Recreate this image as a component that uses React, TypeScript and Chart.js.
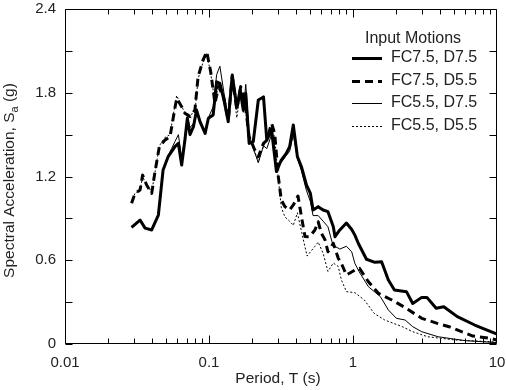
import React, { useEffect, useRef } from "react";
import { Chart, registerables } from "chart.js";

Chart.register(...registerables);

// ---------- data ----------
const periodsFC75D75 = [0.029,0.0332,0.036,0.04,0.0445,0.048,0.052,0.055,0.058,0.0613,0.0646,0.068,0.0707,0.0738,0.078,0.082,0.0866,0.094,0.099,0.1069,0.113,0.119,0.127,0.136,0.145,0.156,0.1645,0.173,0.18,0.19,0.203,0.22,0.239,0.252,0.272,0.294,0.3175,0.344,0.363,0.385,0.411,0.4385,0.475,0.506,0.528,0.573,0.62,0.67,0.73,0.75,0.81,0.9,0.98,1.03,1.09,1.24,1.42,1.58,1.76,1.94,2.35,2.6,3.0,3.26,3.78,4.27,5.3,7.0,10];
const saFC75D75 = [0.836,0.888,0.83,0.817,0.924,1.247,1.342,1.378,1.414,1.437,1.282,1.46,1.617,1.5,1.557,1.676,1.593,1.509,1.617,1.641,1.879,1.867,1.748,1.593,1.927,1.7,1.82,1.676,1.796,1.437,1.45,1.748,1.77,1.46,1.533,1.235,1.318,1.366,1.414,1.569,1.342,1.27,1.139,1.079,0.96,0.984,0.96,0.948,0.84,0.769,0.817,0.867,0.82,0.78,0.72,0.607,0.585,0.59,0.458,0.387,0.375,0.29,0.334,0.334,0.256,0.267,0.196,0.136,0.07];

const periodsFC75D55 = [0.029,0.0306,0.0332,0.0346,0.0369,0.04,0.042,0.0452,0.0495,0.0536,0.0582,0.0597,0.0646,0.068,0.0738,0.0798,0.084,0.091,0.0965,0.1027,0.11,0.1165,0.126,0.136,0.145,0.156,0.166,0.178,0.19,0.208,0.22,0.239,0.252,0.272,0.286,0.302,0.3175,0.337,0.363,0.385,0.415,0.4385,0.464,0.5,0.544,0.573,0.6035,0.64,0.67,0.73,0.79,0.83,0.9,1.03,1.11,1.28,1.5,1.86,2.25,3.0,3.85,4.65,6.8,8.9,10];
const saFC75D55 = [1.008,1.079,1.103,1.21,1.139,1.079,1.223,1.414,1.461,1.485,1.7,1.76,1.7,1.653,1.629,1.676,1.915,2.035,2.094,1.951,1.724,1.844,1.772,1.605,1.915,1.68,1.844,1.724,1.485,1.39,1.342,1.437,1.46,1.581,1.509,1.21,1.032,0.984,0.96,0.996,1.06,0.912,0.77,0.769,0.817,0.876,0.793,0.745,0.661,0.721,0.614,0.578,0.494,0.53,0.542,0.446,0.363,0.315,0.267,0.184,0.148,0.124,0.057,0.041,0.029];

const periodsFC55D75 = [0.029,0.0332,0.036,0.04,0.0445,0.048,0.052,0.055,0.058,0.0613,0.0646,0.068,0.0707,0.0738,0.078,0.082,0.0866,0.094,0.099,0.1069,0.113,0.119,0.127,0.136,0.145,0.156,0.1645,0.173,0.18,0.19,0.203,0.22,0.239,0.252,0.272,0.294,0.3175,0.344,0.363,0.385,0.411,0.4385,0.475,0.506,0.528,0.573,0.62,0.67,0.72,0.75,0.81,0.9,0.98,1.03,1.1,1.28,1.55,1.76,2.0,2.3,2.6,3.0,3.9,6.0,10];
const saFC55D75 = [0.84,0.88,0.83,0.82,0.93,1.25,1.35,1.4,1.45,1.5,1.33,1.48,1.63,1.55,1.58,1.66,1.58,1.52,1.62,1.7,1.93,1.99,1.8,1.62,1.9,1.68,1.8,1.66,1.86,1.5,1.4,1.3,1.42,1.4,1.5,1.25,1.3,1.35,1.38,1.5,1.33,1.24,1.1,1.02,0.92,0.92,0.88,0.84,0.72,0.7,0.68,0.7,0.66,0.578,0.52,0.41,0.339,0.244,0.184,0.172,0.124,0.088,0.052,0.024,0.01];

const periodsFC55D55 = [0.029,0.0306,0.0332,0.0346,0.0369,0.04,0.042,0.0452,0.0495,0.0536,0.0582,0.0597,0.0646,0.068,0.0738,0.0798,0.084,0.091,0.0965,0.1027,0.11,0.1165,0.126,0.136,0.145,0.156,0.166,0.178,0.19,0.208,0.22,0.239,0.272,0.286,0.302,0.3175,0.337,0.363,0.385,0.411,0.44,0.48,0.544,0.573,0.62,0.67,0.73,0.79,0.83,0.9,1.03,1.2,1.4,1.66,2.2,2.6,3.3,5.1,10];
const saFC55D55 = [1.01,1.08,1.1,1.2,1.14,1.09,1.22,1.42,1.48,1.5,1.72,1.78,1.7,1.66,1.64,1.66,1.9,2.02,2.08,1.94,1.73,1.86,1.78,1.62,1.9,1.62,1.82,1.7,1.48,1.38,1.3,1.42,1.54,1.48,1.2,0.98,0.91,0.88,0.85,0.94,0.8,0.63,0.7,0.73,0.65,0.52,0.58,0.555,0.46,0.375,0.368,0.315,0.22,0.172,0.124,0.088,0.052,0.029,0.014];

const seriesNames = ["FC7.5, D7.5", "FC7.5, D5.5", "FC5.5, D7.5", "FC5.5, D5.5"];
const legendTitle = "Input Motions";
const xTickValues = [0.01, 0.1, 1, 10];
const xTickLabels = ["0.01", "0.1", "1", "10"];
const yTickValues = [0, 0.6, 1.2, 1.8, 2.4];
const yTickLabels = ["0", "0.6", "1.2", "1.8", "2.4"];
const yMinorTickValues = [0.3, 0.9, 1.5, 2.1];
const xAxisTitle = "Period, T (s)";
const yAxisTitleMain = "Spectral Acceleration, S";
const yAxisTitleSub = "a";
const yAxisTitleEnd = " (g)";

const FONT = '"Liberation Sans", Arial, sans-serif';
const TEXT = "#222";

const styles = [
  { width: 3, dash: [] as number[] },
  { width: 3, dash: [8, 5] },
  { width: 1, dash: [] as number[] },
  { width: 1, dash: [2, 2] },
];

function pts(xs: number[], ys: number[]) {
  return xs.map((x, i) => ({ x, y: ys[i] }));
}

const decorPlugin = {
  id: "decor",
  afterDraw(chart: any) {
    const ctx: CanvasRenderingContext2D = chart.ctx;
    const a = chart.chartArea;
    const xs = chart.scales.x;
    const ys = chart.scales.y;
    ctx.save();
    ctx.strokeStyle = "#000";
    ctx.lineWidth = 1;
    ctx.setLineDash([]);
    const L = Math.round(a.left) + 0.5;
    const R = Math.round(a.right) - 0.5;
    const T = Math.round(a.top) + 0.5;
    const B = Math.round(a.bottom) - 0.5;
    ctx.beginPath();
    ctx.rect(L, T, R - L, B - T);
    ctx.stroke();
    // y ticks (left and right, inward)
    ctx.beginPath();
    [...yTickValues, ...yMinorTickValues].forEach((v) => {
      const y = Math.round(ys.getPixelForValue(v)) + 0.5;
      ctx.moveTo(L, y); ctx.lineTo(L + 7, y);
      ctx.moveTo(R, y); ctx.lineTo(R - 7, y);
    });
    // x ticks (top and bottom, inward)
    for (let e = -2; e < 1; e++) {
      for (let m = 1; m <= 9; m++) {
        const v = m * Math.pow(10, e);
        const x = Math.round(xs.getPixelForValue(v)) + 0.5;
        const len = m === 1 ? 8 : 5;
        ctx.moveTo(x, B); ctx.lineTo(x, B - len);
        ctx.moveTo(x, T); ctx.lineTo(x, T + len);
      }
    }
    ctx.stroke();

    // axis titles
    ctx.fillStyle = TEXT;
    ctx.font = `15.5px ${FONT}`;
    ctx.textAlign = "center";
    ctx.textBaseline = "middle";
    ctx.fillText(xAxisTitle, (a.left + a.right) / 2 - 3, 379);

    ctx.save();
    ctx.translate(10, (a.top + a.bottom) / 2 + 4);
    ctx.rotate(-Math.PI / 2);
    ctx.font = `15.5px ${FONT}`;
    const w1 = ctx.measureText(yAxisTitleMain).width;
    const w3 = ctx.measureText(yAxisTitleEnd).width;
    ctx.font = `11px ${FONT}`;
    const w2 = ctx.measureText(yAxisTitleSub).width;
    const total = w1 + w2 + w3;
    const x0 = -total / 2;
    ctx.textAlign = "left";
    ctx.font = `15.5px ${FONT}`;
    ctx.fillText(yAxisTitleMain, x0, 0);
    ctx.font = `11px ${FONT}`;
    ctx.fillText(yAxisTitleSub, x0 + w1, 5);
    ctx.font = `15.5px ${FONT}`;
    ctx.fillText(yAxisTitleEnd, x0 + w1 + w2, 0);
    ctx.restore();

    // legend
    ctx.font = `16px ${FONT}`;
    ctx.textAlign = "center";
    ctx.fillStyle = TEXT;
    ctx.fillText(legendTitle, 413, 39);
    ctx.textAlign = "left";
    const rows = [58, 81, 103, 126];
    seriesNames.forEach((name, i) => {
      const y = rows[i];
      ctx.strokeStyle = "#000";
      ctx.lineWidth = styles[i].width;
      ctx.setLineDash(styles[i].dash);
      ctx.beginPath();
      ctx.moveTo(352, y + 0.5);
      ctx.lineTo(382, y + 0.5);
      ctx.stroke();
      ctx.setLineDash([]);
      ctx.fillStyle = TEXT;
      ctx.fillText(name, 391, y);
    });
    ctx.restore();
  },
};

export default function App() {
  const ref = useRef<HTMLCanvasElement | null>(null);
  useEffect(() => {
    document.body.style.margin = "0";
    if (!ref.current) return;
    const series = [
      pts(periodsFC75D75, saFC75D75),
      pts(periodsFC75D55, saFC75D55),
      pts(periodsFC55D75, saFC55D75),
      pts(periodsFC55D55, saFC55D55),
    ];
    const chart = new Chart(ref.current, {
      type: "line",
      data: {
        datasets: series.map((d, i) => ({
          label: seriesNames[i],
          data: d,
          borderColor: "#000",
          backgroundColor: "#000",
          borderWidth: styles[i].width,
          borderDash: styles[i].dash,
          borderJoinStyle: "round" as const,
          pointRadius: 0,
          tension: 0,
          fill: false,
        })),
      },
      options: {
        animation: false,
        responsive: false,
        maintainAspectRatio: false,
        layout: { padding: { top: 9, right: 9, left: 0, bottom: 0 } },
        plugins: { legend: { display: false }, tooltip: { enabled: false } },
        scales: {
          x: {
            type: "logarithmic",
            min: 0.01,
            max: 10,
            grid: { display: false, drawTicks: false },
            border: { display: false },
            afterBuildTicks: (s: any) => {
              s.ticks = xTickValues.map((v) => ({ value: v }));
            },
            afterFit: (s: any) => {
              s.height = 46;
              s.paddingLeft = 0;
              s.paddingRight = 0;
            },
            ticks: {
              autoSkip: false,
              maxRotation: 0,
              padding: 10,
              color: TEXT,
              font: { family: FONT, size: 15 },
              callback: (v: any) => {
                const i = xTickValues.findIndex((t) => Math.abs(t - Number(v)) < t * 1e-6);
                return i >= 0 ? xTickLabels[i] : "";
              },
            },
          },
          y: {
            type: "linear",
            min: 0,
            max: 2.4,
            grid: { display: false, drawTicks: false },
            border: { display: false },
            afterBuildTicks: (s: any) => {
              s.ticks = yTickValues.map((v) => ({ value: v }));
            },
            afterFit: (s: any) => {
              s.width = 65;
              s.paddingTop = 0;
              s.paddingBottom = 0;
            },
            ticks: {
              padding: 9,
              color: TEXT,
              font: { family: FONT, size: 15 },
              callback: (v: any) => {
                const i = yTickValues.findIndex((t) => Math.abs(t - Number(v)) < 1e-6);
                return i >= 0 ? yTickLabels[i] : "";
              },
            },
          },
        },
      } as any,
      plugins: [decorPlugin],
    });
    return () => chart.destroy();
  }, []);
  return (
    <div style={{ width: 506, height: 390, background: "#fff" }}>
      <canvas ref={ref} width={506} height={390} style={{ display: "block" }} />
    </div>
  );
}
